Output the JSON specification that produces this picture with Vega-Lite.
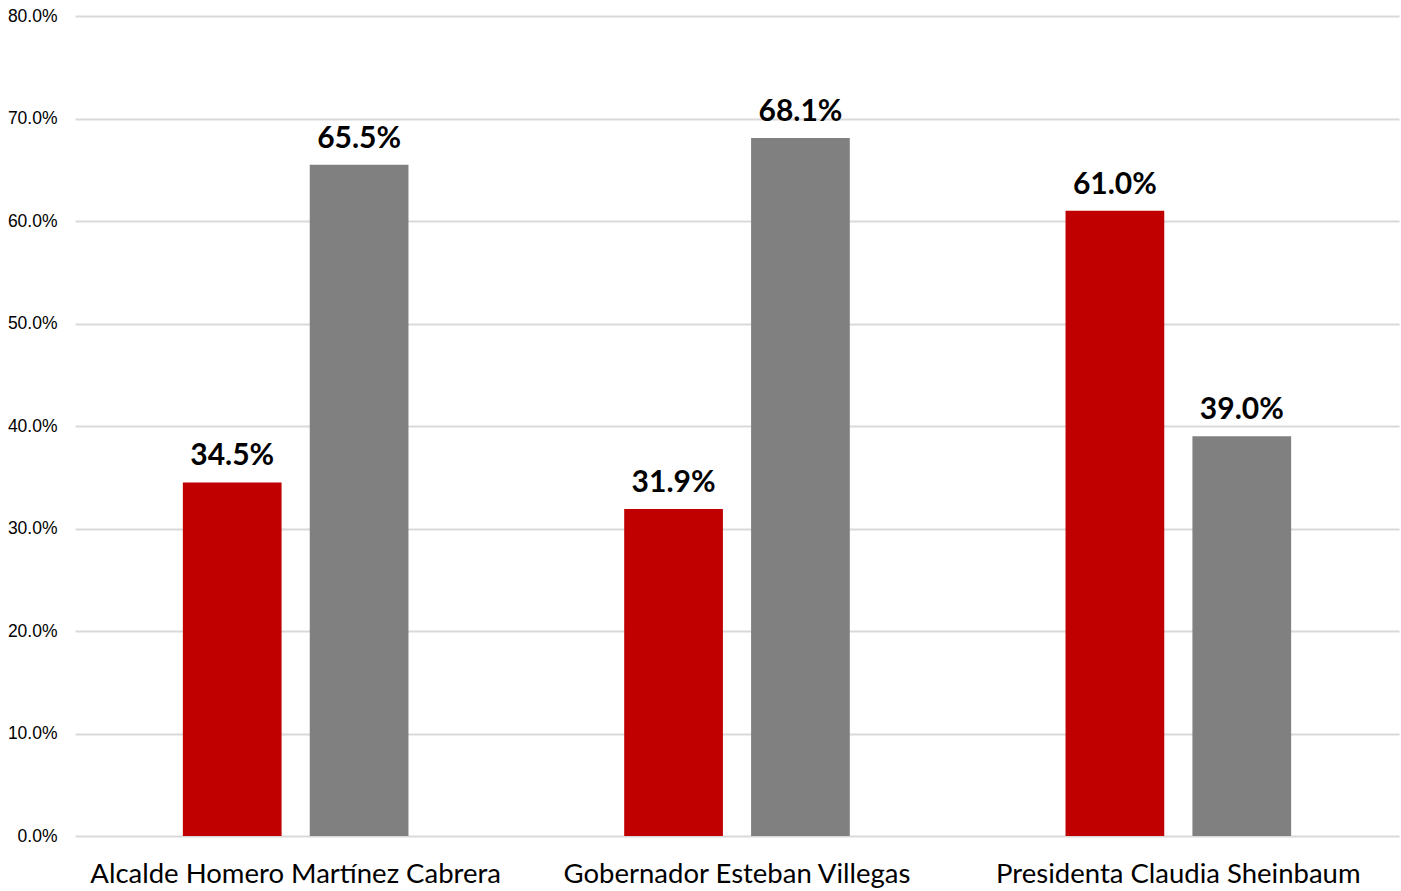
{
  "$schema": "https://vega.github.io/schema/vega-lite/v6.json",
  "width": 1324,
  "height": 820,
  "autosize": {"type": "none"},
  "padding": {"left": 75, "top": 16, "right": 2, "bottom": 55},
  "background": "white",
  "config": {"view": {"stroke": null}},
  "data": {
    "values": [
      {"funcionario": "Alcalde Homero Martínez Cabrera", "serie": "A", "valor": 0.345},
      {"funcionario": "Alcalde Homero Martínez Cabrera", "serie": "B", "valor": 0.655},
      {"funcionario": "Gobernador Esteban Villegas", "serie": "A", "valor": 0.319},
      {"funcionario": "Gobernador Esteban Villegas", "serie": "B", "valor": 0.681},
      {"funcionario": "Presidenta Claudia Sheinbaum", "serie": "A", "valor": 0.61},
      {"funcionario": "Presidenta Claudia Sheinbaum", "serie": "B", "valor": 0.39}
    ]
  },
  "encoding": {
    "x": {
      "field": "funcionario", "type": "nominal", "sort": null,
      "scale": {"paddingInner": 0, "paddingOuter": 0},
      "axis": {"title": null, "labelAngle": 0, "labelFont": "Lato", "labelFontSize": 27.5, "labelColor": "#000000", "labelPadding": 24, "ticks": false, "domain": false, "labelLimit": 600}
    },
    "xOffset": {
      "field": "serie", "type": "nominal",
      "scale": {"paddingInner": 0.222, "paddingOuter": 0.85}
    },
    "y": {
      "field": "valor", "type": "quantitative",
      "scale": {"domain": [0, 0.8]},
      "axis": {"title": null, "format": ".1%", "values": [0,0.1,0.2,0.3,0.4,0.5,0.6,0.7,0.8], "labelOverlap": false, "labelFont": "Liberation Sans", "labelFontSize": 17.5, "labelColor": "#000000", "labelPadding": 18, "ticks": false, "domain": false, "gridColor": "#d9d9d9", "gridWidth": 2}
    }
  },
  "layer": [
    {
      "mark": {"type": "bar"},
      "encoding": {
        "color": {"field": "serie", "type": "nominal", "scale": {"domain": ["A", "B"], "range": ["#c00000", "#808080"]}, "legend": null}
      }
    },
    {
      "mark": {"type": "text", "font": "Lato", "fontWeight": "bold", "fontSize": 30, "baseline": "alphabetic", "dy": -17, "color": "#000000"},
      "encoding": {
        "text": {"field": "valor", "type": "quantitative", "format": ".1%"}
      }
    }
  ]
}
